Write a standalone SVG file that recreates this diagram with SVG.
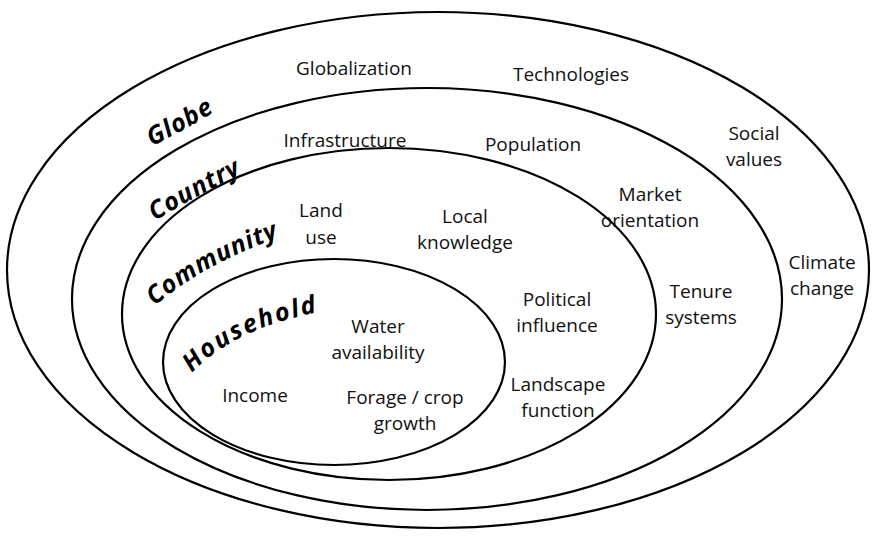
<svg xmlns="http://www.w3.org/2000/svg" width="875" height="537" viewBox="0 0 875 537">
<style>
.ring{fill:none;stroke:#000;stroke-width:2.2}
.t{font-family:"Open Sans","Noto Sans",sans-serif;font-size:19px;fill:#111;text-anchor:middle}
.lv{font-family:"Open Sans","Noto Sans",sans-serif;font-size:25px;font-weight:bold;font-style:italic;letter-spacing:0.8px;fill:#000}
</style>
<defs>
<path id="pGlobe" d="M 152 146 Q 182 132 224 106"/>
<path id="pCountry" d="M 155 221 Q 196 196 248 170"/>
<path id="pCommunity" d="M 155 306 Q 200 266 282 236"/>
<path id="pHousehold" d="M 192 373 Q 236 326 330 310"/>
</defs>
<rect width="875" height="537" fill="#fff"/>
<g id="globe">
<ellipse class="ring" cx="438" cy="270" rx="431" ry="258"/>
<text class="lv"><textPath href="#pGlobe">Globe</textPath></text>
<text class="t" x="354" y="75">Globalization</text>
<text class="t" x="571" y="81">Technologies</text>
<text class="t" x="754" y="140">Social</text>
<text class="t" x="754" y="166">values</text>
<text class="t" x="822" y="269">Climate</text>
<text class="t" x="822" y="295">change</text>
</g>
<g id="country">
<ellipse class="ring" cx="427" cy="299" rx="355" ry="211"/>
<text class="lv"><textPath href="#pCountry">Country</textPath></text>
<text class="t" x="345" y="147">Infrastructure</text>
<text class="t" x="533" y="151">Population</text>
<text class="t" x="650" y="201">Market</text>
<text class="t" x="650" y="227">orientation</text>
<text class="t" x="701" y="298">Tenure</text>
<text class="t" x="701" y="324">systems</text>
</g>
<g id="community">
<ellipse class="ring" cx="389" cy="314" rx="267" ry="166"/>
<text class="lv"><textPath href="#pCommunity">Community</textPath></text>
<text class="t" x="321" y="217">Land</text>
<text class="t" x="321" y="244">use</text>
<text class="t" x="465" y="223">Local</text>
<text class="t" x="465" y="249">knowledge</text>
<text class="t" x="557" y="306">Political</text>
<text class="t" x="557" y="332">influence</text>
<text class="t" x="558" y="391">Landscape</text>
<text class="t" x="558" y="417">function</text>
</g>
<g id="household">
<ellipse class="ring" cx="334" cy="362" rx="171" ry="103"/>
<text class="lv" style="letter-spacing:2px"><textPath href="#pHousehold">Household</textPath></text>
<text class="t" x="378" y="333">Water</text>
<text class="t" x="378" y="359">availability</text>
<text class="t" x="255" y="402">Income</text>
<text class="t" x="405" y="404">Forage / crop</text>
<text class="t" x="405" y="430">growth</text>
</g>
<g id="connectors"></g>
</svg>
